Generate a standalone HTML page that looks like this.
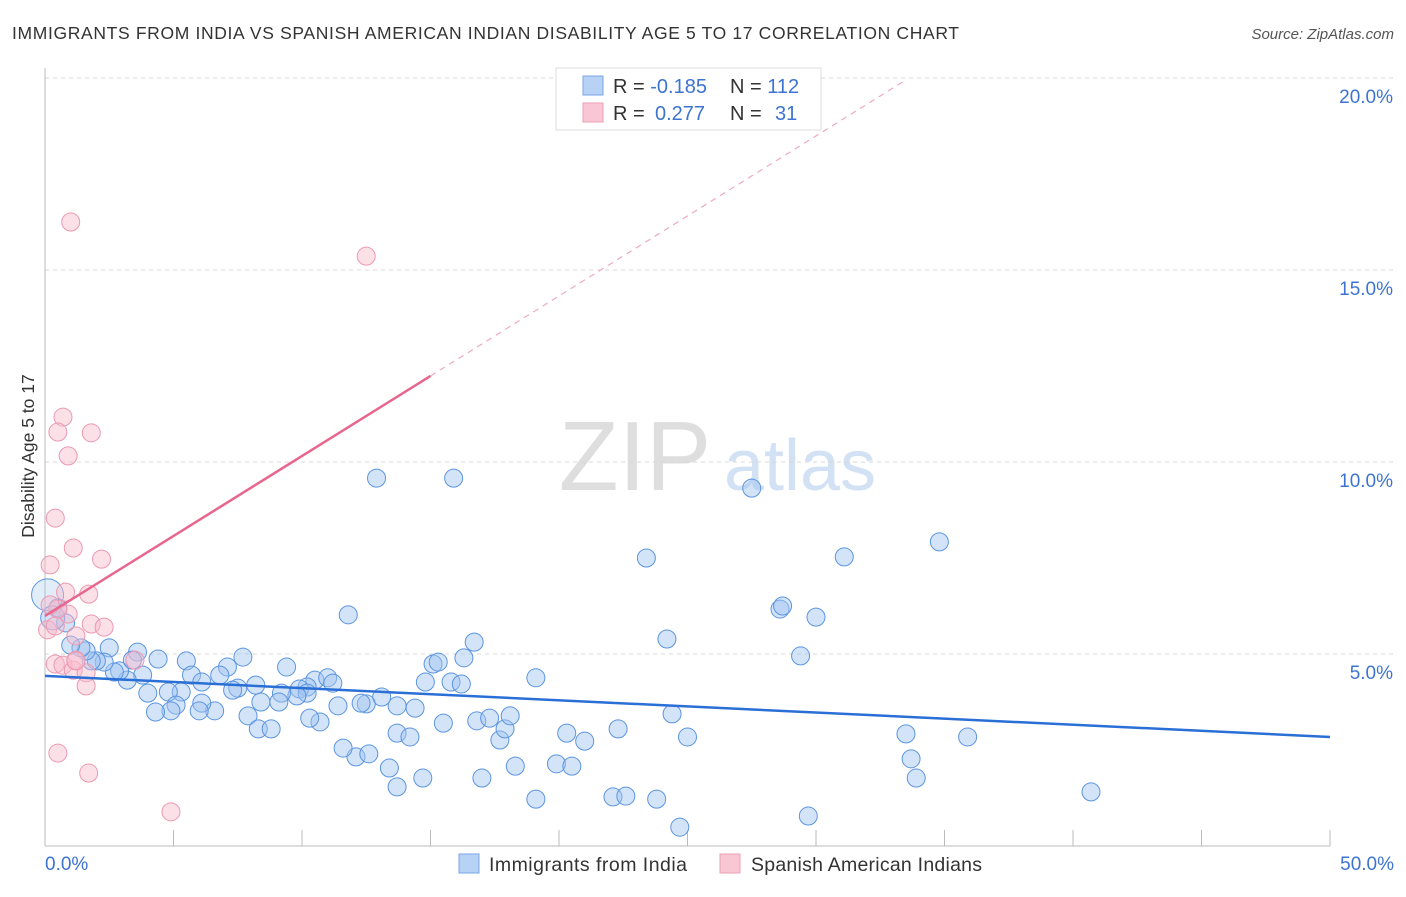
<!DOCTYPE html>
<html><head><meta charset="utf-8"><style>
body{margin:0;background:#fff;font-family:"Liberation Sans",sans-serif;}
svg text{font-family:"Liberation Sans",sans-serif;}
</style></head><body>
<svg width="1406" height="892" id="chart">
<text x="12" y="39" font-size="17.5" fill="#333" textLength="947" lengthAdjust="spacing">IMMIGRANTS FROM INDIA VS SPANISH AMERICAN INDIAN DISABILITY AGE 5 TO 17 CORRELATION CHART</text>
<text x="1394" y="39" font-size="15" fill="#555" font-style="italic" text-anchor="end">Source: ZipAtlas.com</text>
<text transform="translate(34,456) rotate(-90)" font-size="17.5" fill="#333" text-anchor="middle">Disability Age 5 to 17</text>
<g>
<text x="635" y="490" font-size="98" fill="#dedede" font-family="Liberation Serif" text-anchor="middle">ZIP</text>
<text x="800" y="490" font-size="72" fill="#d2e1f4" text-anchor="middle">atlas</text>
</g>
<g id="grid"></g><g id="axes"></g><g id="pts"></g><g id="lines"></g>
<g>
<rect x="556" y="68" width="265" height="62" fill="#fff" stroke="#ddd"/>
<rect x="583" y="76" width="20" height="19" fill="#b8d2f5" stroke="#7aa6e6"/>
<rect x="583" y="103" width="20" height="19" fill="#f9c6d4" stroke="#eba0b5"/>
<text x="613" y="93" font-size="20" fill="#333">R = <tspan fill="#3d74d0">-0.185</tspan></text>
<text x="730" y="93" font-size="20" fill="#333">N = <tspan fill="#3d74d0">112</tspan></text>
<text x="613" y="120" font-size="20" fill="#333">R = <tspan fill="#3d74d0" x="655">0.277</tspan></text>
<text x="730" y="120" font-size="20" fill="#333">N = <tspan fill="#3d74d0" x="775">31</tspan></text>
</g>
<g>
<rect x="459" y="854" width="20" height="19" fill="#b8d2f5" stroke="#7aa6e6"/>
<text x="489" y="871" font-size="19.5" fill="#333" textLength="198">Immigrants from India</text>
<rect x="720" y="854" width="20" height="19" fill="#f9c6d4" stroke="#eba0b5"/>
<text x="751" y="871" font-size="19.5" fill="#333" textLength="231">Spanish American Indians</text>
</g>
</svg>
<script>
const yTicks=[5,10,15,20];
const yTickLabels=["5.0%","10.0%","15.0%","20.0%"];
const xTicks=[0,5,10,15,20,25,30,35,40,45,50];
const xEndLabels=["0.0%","50.0%"];
const indiaX=[12.9,15.9,27.5,34.8,31.1,23.4,11.8,28.6,28.7,30.0,24.2,16.7,29.4,19.1,16.3,15.1,15.3,14.8,15.8,16.2,24.4,22.3,20.3,21.0,25.0,33.5,35.9,33.7,33.9,40.7,29.7,24.7,19.1,22.1,22.6,23.8,19.9,20.5,18.3,17.0,14.7,13.7,13.4,12.1,12.6,11.6,13.7,14.2,15.5,16.8,17.3,17.7,17.9,18.1,14.4,13.7,13.1,12.5,12.3,11.4,10.7,10.3,10.5,11.0,11.2,10.2,9.9,10.2,9.8,9.2,9.4,9.1,8.4,8.2,7.9,8.3,8.8,7.7,7.1,6.8,7.5,7.3,6.6,6.1,6.0,5.5,5.7,6.1,5.3,4.8,5.1,4.9,4.3,4.0,4.4,3.8,3.6,3.2,2.9,2.7,2.5,2.3,2.0,1.8,1.6,1.4,1.0,0.8,0.5,0.1,0.3,3.4];
const indiaY=[9.58,9.58,9.32,7.92,7.53,7.50,6.02,6.17,6.25,5.96,5.39,5.31,4.95,4.38,4.90,4.74,4.79,4.27,4.27,4.22,3.44,3.05,2.94,2.73,2.84,2.92,2.84,2.27,1.77,1.41,0.78,0.49,1.22,1.28,1.30,1.22,2.14,2.08,2.08,1.77,1.77,1.54,2.03,2.32,2.40,2.55,2.94,2.84,3.20,3.26,3.33,2.76,3.05,3.39,3.59,3.65,3.88,3.70,3.72,3.65,3.23,3.33,4.32,4.38,4.24,4.14,4.09,3.98,3.91,3.98,4.66,3.75,3.75,4.19,3.39,3.05,3.05,4.92,4.66,4.45,4.11,4.06,3.52,3.72,3.52,4.82,4.45,4.27,4.01,4.01,3.67,3.52,3.49,3.98,4.87,4.45,5.05,4.32,4.56,4.53,5.16,4.79,4.82,4.82,5.08,5.16,5.23,5.81,6.20,6.54,5.94,4.84];
const spanX=[1.0,12.5,0.7,0.5,1.8,0.9,0.4,1.1,0.2,2.2,0.8,1.7,0.9,0.5,0.1,0.4,1.8,2.3,1.2,0.4,0.7,1.1,1.6,1.2,3.5,1.6,0.5,1.7,4.9,0.2,1.2];
const spanY=[16.25,15.36,11.17,10.78,10.76,10.16,8.54,7.76,7.32,7.47,6.61,6.56,6.04,6.17,5.63,5.73,5.78,5.70,5.47,4.74,4.71,4.58,4.51,4.84,4.84,4.17,2.42,1.90,0.89,6.28,4.82];
const indiaTrend=[4.43,2.84];
const spanTrend=[5.99,12.24,19.95];
const spanTrendX=[0,15,33.5];
const NS="http://www.w3.org/2000/svg";
const X=v=>45+v*25.7, Y=v=>846-v*38.4;
function mk(tag,attrs,parent){const e=document.createElementNS(NS,tag);for(const k in attrs)e.setAttribute(k,attrs[k]);document.getElementById(parent).appendChild(e);return e;}
yTicks.forEach((t,i)=>{
 const g=mk('line',{x1:45,x2:1395,y1:Y(t),y2:Y(t),stroke:'#d8d8d8','stroke-dasharray':'4,4'},'grid');
 
 
 const l=mk('text',{x:1393,y:Y(t)+25,'font-size':19,fill:'#3d74d0','text-anchor':'end'},'axes');
 l.textContent=yTickLabels[i];
 
 
});
const ax=mk('line',{x1:45,x2:45,y1:68,y2:846,stroke:'#bbb'},'axes');


const bx=mk('line',{x1:45,x2:1330,y1:846,y2:846,stroke:'#bbb'},'axes');


xTicks.forEach(t=>{
 const k=mk('line',{x1:X(t),x2:X(t),y1:830,y2:846,stroke:'#bbb'},'axes');
 
 
});
[[0,'start',45],[50,'end',1394]].forEach((a,i)=>{
 const l=mk('text',{x:a[2],y:870,'font-size':19,fill:'#3d74d0','text-anchor':a[1]},'axes');
 l.textContent=xEndLabels[i];
 
 
});
indiaX.forEach((x,i)=>{
 const big=(i==indiaX.length-3);
 const r=big?16:(i==indiaX.length-2?12:9);
 const c=mk('circle',{cx:X(x),cy:Y(indiaY[i]),r:r,fill:big?'rgba(160,196,240,0.3)':'rgba(160,196,240,0.45)',stroke:'#5b95e0','stroke-width':1},'pts');
 
 
});
spanX.forEach((x,i)=>{
 const c=mk('circle',{cx:X(x),cy:Y(spanY[i]),r:9,fill:'rgba(248,186,204,0.45)',stroke:'#eb99b2','stroke-width':1},'pts');
 
 
});
const bl=mk('line',{x1:X(0),y1:Y(indiaTrend[0]),x2:X(50),y2:Y(indiaTrend[1]),stroke:'#2a6fd6','stroke-width':2.5},'lines');


const pl=mk('line',{x1:X(spanTrendX[0]),y1:Y(spanTrend[0]),x2:X(spanTrendX[1]),y2:Y(spanTrend[1]),stroke:'#e8668e','stroke-width':2.5},'lines');


const pd=mk('line',{x1:X(spanTrendX[1]),y1:Y(spanTrend[1]),x2:X(spanTrendX[2]),y2:Y(spanTrend[2]),stroke:'#eeaabd','stroke-width':1.2,'stroke-dasharray':'6,5'},'lines');


</script>
</body></html>
